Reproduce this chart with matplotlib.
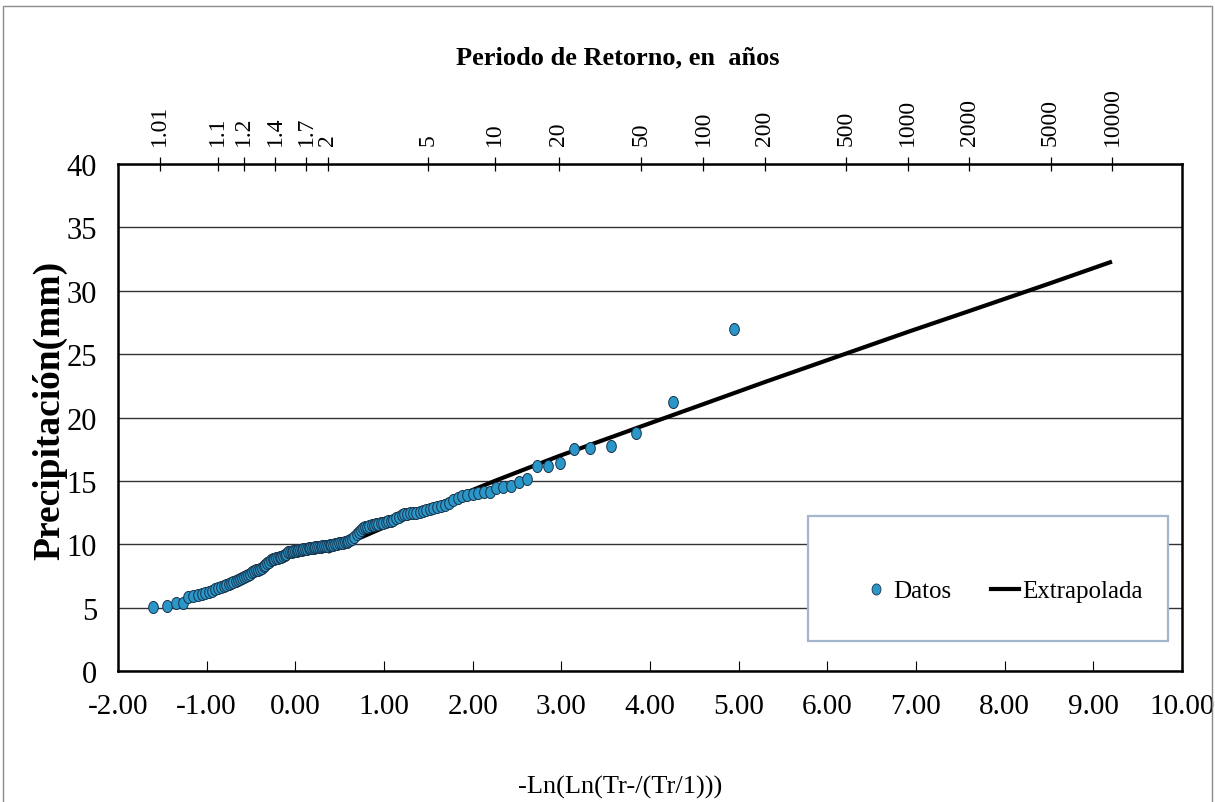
import numpy as np
import matplotlib
matplotlib.use("Agg")
import matplotlib.pyplot as plt
from matplotlib.patches import Rectangle
from matplotlib.lines import Line2D
from matplotlib.path import Path

# ---------------- data ----------------
period_ticks = [1.01, 1.1, 1.2, 1.4, 1.7, 2, 5, 10, 20, 50, 100, 200, 500, 1000, 2000, 5000, 10000]
period_labels = ["1.01", "1.1", "1.2", "1.4", "1.7", "2", "5", "10", "20", "50", "100",
                 "200", "500", "1000", "2000", "5000", "10000"]
x_ticks = [-2, -1, 0, 1, 2, 3, 4, 5, 6, 7, 8, 9, 10]
y_ticks = [0, 5, 10, 15, 20, 25, 30, 35, 40]

# observed precipitation (mm), sorted ascending
precip_mm = [
    5.07, 5.15, 5.36, 5.40, 5.80, 5.92, 6.02, 6.08, 6.14, 6.20,
    6.35, 6.48, 6.55, 6.63, 6.71, 6.80, 6.88, 6.97, 7.05, 7.13,
    7.20, 7.26, 7.36, 7.44, 7.52, 7.60, 7.69, 7.82, 7.87, 7.94,
    8.00, 8.07, 8.14, 8.27, 8.38, 8.50, 8.62, 8.72, 8.80, 8.85,
    8.90, 8.94, 8.98, 9.02, 9.10, 9.18, 9.27, 9.36, 9.38, 9.40,
    9.43, 9.46, 9.49, 9.52, 9.54, 9.57, 9.60, 9.62, 9.65, 9.67,
    9.69, 9.72, 9.74, 9.76, 9.78, 9.80, 9.82, 9.84, 9.86, 9.88,
    9.90, 9.92, 9.95, 9.98, 10.02, 10.05, 10.08, 10.11, 10.13, 10.15,
    10.20, 10.26, 10.34, 10.42, 10.60, 10.78, 10.95, 11.12, 11.25, 11.33,
    11.38, 11.43, 11.49, 11.54, 11.58, 11.62, 11.66, 11.71, 11.76, 11.81,
    11.86, 11.95, 12.06, 12.16, 12.27, 12.38, 12.40, 12.43, 12.46, 12.48,
    12.52, 12.60, 12.70, 12.82, 12.87, 12.93, 12.99, 13.06, 13.25, 13.50,
    13.65, 13.80, 13.90, 14.00, 14.08, 14.15, 14.15, 14.42, 14.50, 14.58,
    14.94, 15.15, 16.20, 16.20, 16.40, 17.51, 17.62, 17.73, 18.75, 21.25,
    26.98,
]

# fitted / extrapolated precipitation at return periods
extrap_T = [2, 5, 10, 20, 50, 100, 200, 500, 1000, 2000, 5000, 10000]
extrap_mm = [9.4, 12.85, 15.0, 16.95, 19.3, 21.05, 22.8, 25.05, 26.75, 28.4, 30.6, 32.3]


def gumbel_x(T):
    T = np.asarray(T, dtype=float)
    return -np.log(np.log(T / (T - 1.0)))


# plotting positions (Weibull) for the observed data
n = len(precip_mm)
ranks = np.arange(1, n + 1)
T_obs = (n + 1) / (n + 1 - ranks)
x_obs = gumbel_x(T_obs)

# ---------------- figure ----------------
W, H = 1215, 803
fig = plt.figure(figsize=(W / 100, H / 100), dpi=100)
serif = ["Liberation Serif", "DejaVu Serif"]
plt.rcParams["font.family"] = serif

L, R, T_, B = 118, 1182, 165, 672
ax = fig.add_axes([L / W, 1 - B / H, (R - L) / W, (B - T_) / H])
ax.set_xlim(-2, 10)
ax.set_ylim(0, 40)

ax.set_xticks(x_ticks)
ax.set_xticklabels([f"{v:.2f}" for v in x_ticks])
ax.set_yticks(y_ticks)
ax.grid(axis="y", color="#333333", lw=1.0, zorder=0)
ax.set_axisbelow(True)
ax.tick_params(axis="x", direction="in", length=7, width=0.8, pad=16, labelsize=21, colors="black")
ax.tick_params(axis="y", length=0, pad=15, labelsize=22)
for s in ax.spines.values():
    s.set_linewidth(1.8)
    s.set_color("black")

# ellipse-shaped marker (narrow like in the original)
t = np.linspace(0, 2 * np.pi, 40)
ell = Path(np.column_stack([0.8 * np.cos(t), np.sin(t)]), closed=True)

ax.plot(gumbel_x(extrap_T), extrap_mm, color="black", lw=3.0, zorder=3,
        solid_capstyle="butt")
ax.scatter(x_obs, precip_mm, marker=ell, s=75, facecolor="#2b97c9",
           edgecolor="#17324a", linewidth=0.7, zorder=4)

# top axis: return periods
ax2 = ax.twiny()
ax2.set_xlim(ax.get_xlim())
ax2.set_xticks(gumbel_x(period_ticks))
ax2.set_xticklabels(period_labels, rotation=90, fontsize=17)
ax2.tick_params(axis="x", direction="inout", length=10, width=0.9, pad=9)
for s in ax2.spines.values():
    s.set_visible(False)

# legend box
bx0, by0 = (808 - L) / (R - L), (B - 642) / (B - T_)
bw, bh = (1168 - 808) / (R - L), (642 - 517) / (B - T_)
box = Rectangle((bx0, by0), bw, bh, transform=ax.transAxes, facecolor="white",
                edgecolor="#a3b6cc", lw=1.6, zorder=6)
ax.add_patch(box)
h1 = Line2D([], [], ls="none", marker=ell, ms=8, markerfacecolor="#2b97c9",
            markeredgecolor="#17324a", markeredgewidth=0.6)
h2 = Line2D([], [], color="black", lw=3.0)
leg = ax.legend([h1, h2], ["Datos", "Extrapolada"], loc="center left",
                bbox_to_anchor=((862 - L) / (R - L), (B - 592) / (B - T_)),
                ncol=2, frameon=False, fontsize=18, handlelength=1.1,
                handletextpad=0.15, columnspacing=1.6, borderpad=0,
                borderaxespad=0)
leg.set_zorder(7)

# titles
fig.text(618 / W, 1 - 58 / H, "Periodo de Retorno, en  años", ha="center", va="center",
         fontsize=19, fontweight="bold")
fig.text(50 / W, 1 - 410 / H, "Precipitación(mm)", ha="center", va="center",
         rotation=90, fontsize=27, fontweight="bold")
fig.text(620 / W, 1 - 787 / H, "-Ln(Ln(Tr-/(Tr/1)))", ha="center", va="center",
         fontsize=19)

# outer frame of the chart area
fig.add_artist(Rectangle((3 / W, -0.01), (W - 6) / W, 1 - 7 / H + 0.01,
                         transform=fig.transFigure, fill=False,
                         edgecolor="#8c8c8c", lw=1.0))

fig.savefig("out.png", dpi=100)
